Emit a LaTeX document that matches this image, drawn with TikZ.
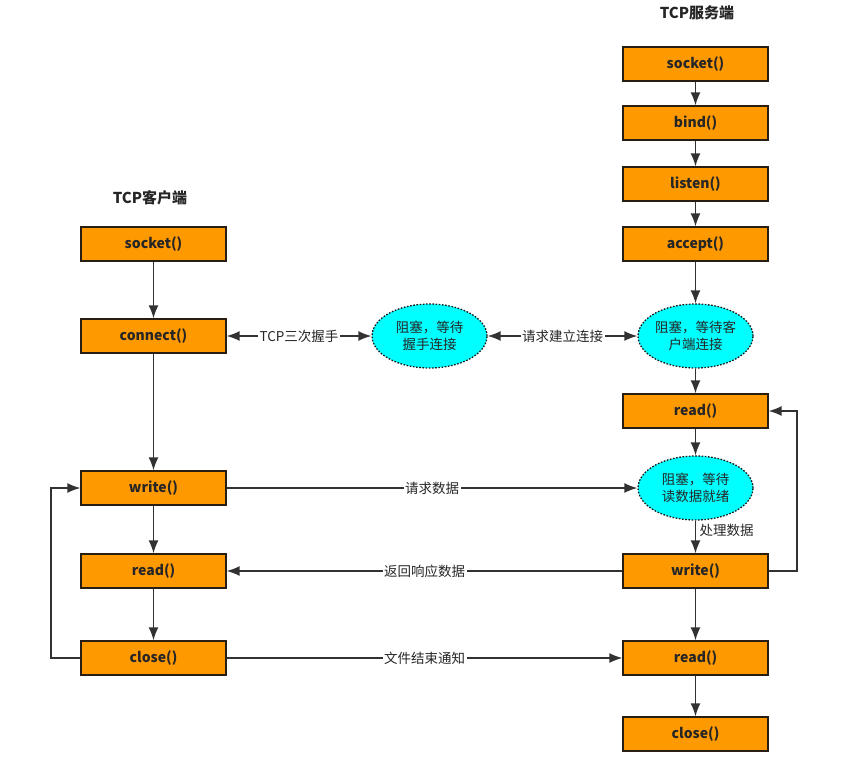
\documentclass[tikz,border=0pt]{standalone}
\usepackage{fontspec}
\setmainfont{Noto Sans CJK SC}
\usetikzlibrary{shapes.geometric,arrows.meta}
\definecolor{boxfill}{RGB}{255,153,0}
\definecolor{boxline}{RGB}{40,30,20}
\definecolor{ellfill}{RGB}{0,255,255}
\definecolor{linec}{RGB}{50,50,50}
\begin{document}
\begin{tikzpicture}[x=1pt,y=-1pt,
  fn/.style={draw=boxline,line width=1.3pt,fill=boxfill,minimum width=145pt,minimum height=34pt,inner sep=0pt,font=\fontsize{14}{16}\selectfont\bfseries,text=black!85},
  wait/.style={ellipse,draw=black!90,line width=1.3pt,dash pattern=on 1.6pt off 1.6pt,fill=ellfill,minimum width=115pt,minimum height=64pt,inner sep=0pt,align=center,font=\fontsize{13.5}{17}\selectfont,text=black!85},
  ttl/.style={font=\fontsize{15}{17}\selectfont\bfseries,text=black!85},
  conn/.style={draw=linec,line width=1.4pt,-{Latex[length=13pt,width=10pt]}},
  both/.style={draw=linec,line width=1.4pt,{Latex[length=13pt,width=10pt]}-{Latex[length=13pt,width=10pt]}},
  lbl/.style={fill=white,inner sep=1.5pt,font=\fontsize{13.5}{15}\selectfont,text=black!85}]
\useasboundingbox (0,0) rectangle (850,756);
% titles
\node[ttl] (ct) at (150,198) {TCP客户端};
\node[ttl] (st) at (697,13) {TCP服务端};
% client
\node[fn] (csock) at (153.5,244) {socket()};
\node[fn] (cconn) at (153.5,336) {connect()};
\node[fn] (cwrite) at (153.5,488) {write()};
\node[fn] (cread) at (153.5,571) {read()};
\node[fn] (cclose) at (153.5,658) {close()};
% middle
\node[wait] (mid) at (429.5,336) {阻塞，等待\\握手连接};
% server
\node[fn] (ssock) at (695.5,64) {socket()};
\node[fn] (sbind) at (695.5,123) {bind()};
\node[fn] (slisten) at (695.5,184) {listen()};
\node[fn] (saccept) at (695.5,244) {accept()};
\node[wait] (swait) at (695.5,336) {阻塞，等待客\\户端连接};
\node[fn] (sread) at (695.5,411) {read()};
\node[wait] (sdata) at (695.5,488) {阻塞，等待\\读数据就绪};
\node[fn] (swrite) at (695.5,571) {write()};
\node[fn] (sread2) at (695.5,658) {read()};
\node[fn] (sclose) at (695.5,734) {close()};
% client chain
\draw[conn] (csock) -- (cconn);
\draw[conn] (cconn) -- (cwrite);
\draw[conn] (cwrite) -- (cread);
\draw[conn] (cread) -- (cclose);
\coordinate (cl1) at (51,658);
\coordinate (cl2) at (51,488);
\draw[conn] (cclose.west) -- (cl1) -- (cl2) -- (cwrite.west);
% server chain
\draw[conn] (ssock) -- (sbind);
\draw[conn] (sbind) -- (slisten);
\draw[conn] (slisten) -- (saccept);
\draw[conn] (saccept) -- (swait);
\draw[conn] (swait) -- (sread);
\draw[conn] (sread) -- (sdata);
\draw[conn] (sdata) -- node[lbl,right,fill=none,xshift=2pt,pos=0.3] {处理数据} (swrite);
\draw[conn] (swrite) -- (sread2);
\draw[conn] (sread2) -- (sclose);
\coordinate (sr1) at (797,571);
\coordinate (sr2) at (797,411);
\draw[conn] (swrite.east) -- (sr1) -- (sr2) -- (sread.east);
% cross links
\draw[both] (cconn.east) -- node[lbl] {TCP三次握手} (mid.west);
\draw[both] (mid.east) -- node[lbl] {请求建立连接} (swait.west);
\draw[conn] (cwrite.east) -- node[lbl] {请求数据} (sdata.west);
\draw[conn] (swrite.west) -- node[lbl] {返回响应数据} (cread.east);
\draw[conn] (cclose.east) -- node[lbl] {文件结束通知} (sread2.west);
\end{tikzpicture}
\end{document}
